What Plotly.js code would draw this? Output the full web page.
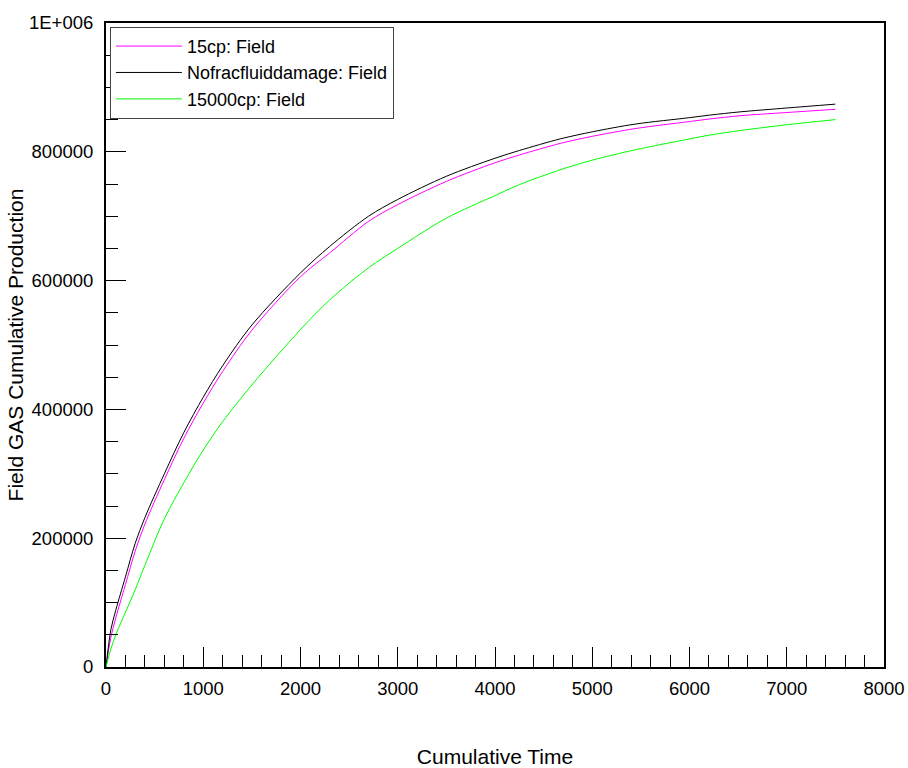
<!DOCTYPE html>
<html>
<head>
<meta charset="utf-8">
<script src="https://cdn.plot.ly/plotly-3.0.1.min.js"></script>
<style>html,body{margin:0;padding:0;background:#fff;}#chart{width:908px;height:768px;}</style>
</head>
<body>
<div id="chart"></div>
<script>
const time = [0,50,100,200,300,400,600,800,1000,1200,1500,2000,2300,2700,3000,3500,4000,4250,4670,5000,5440,6000,6210,6520,7000,7500];
const cp15 = [0,46000,76000,128000,180000,222000,291000,355000,410000,459000,523000,606000,643000,692000,718000,754000,783000,795000,813000,824000,836000,847000,851000,856000,861000,866000];
const nofrac = [0,58000,88000,140000,192000,232000,300000,364000,419000,468000,531000,612000,653000,700000,726000,762000,790000,802000,820000,831000,843000,853000,857000,862000,868000,874000];
const cp15000 = [0,28000,50000,85000,120000,158000,230000,286000,337000,381000,438000,524000,570000,620000,650000,697000,732000,749000,772000,787000,803000,820000,826000,833000,842000,850000];
const seriesNames = ["15cp: Field","Nofracfluiddamage: Field","15000cp: Field"];
const yTickVals = [0,200000,400000,600000,800000,1000000];
const yTickText = ["0","200000","400000","600000","800000","1E+006"];
const xTickVals = [0,1000,2000,3000,4000,5000,6000,7000,8000];

const font = "Liberation Sans, Arial, sans-serif";
const lineShape = {shape: "spline", smoothing: 0.9, width: 1};
const traces = [
  {x: time, y: cp15, name: seriesNames[0], mode: "lines", line: Object.assign({color: "#ff00ff"}, lineShape)},
  {x: time, y: nofrac, name: seriesNames[1], mode: "lines", line: Object.assign({color: "#000000"}, lineShape)},
  {x: time, y: cp15000, name: seriesNames[2], mode: "lines", line: Object.assign({color: "#00ff00"}, lineShape)}
];
const layout = {
  width: 908, height: 768,
  margin: {l: 106, r: 24, t: 23, b: 101},
  paper_bgcolor: "#fff", plot_bgcolor: "#fff",
  font: {family: font, color: "#000", size: 18},
  showlegend: true,
  legend: {x: 0.005, y: 0.994, xanchor: "left", yanchor: "top", bgcolor: "#fff",
           bordercolor: "#444", borderwidth: 1, font: {size: 18, family: font}, tracegroupgap: 0,
           itemwidth: 66},
  xaxis: {range: [0, 8000], tickvals: xTickVals, ticks: "inside", ticklen: 20, tickwidth: 1, tickcolor: "#000",
          minor: {dtick: 200, ticks: "inside", ticklen: 12, tickwidth: 1, tickcolor: "#000", showgrid: false},
          showgrid: false, zeroline: false, showline: true, linewidth: 2, linecolor: "#000", mirror: true,
          tickfont: {size: 18.5, family: font}, ticklabelstandoff: 4, fixedrange: true,
          title: {text: "Cumulative Time", font: {size: 21, family: font}, standoff: 51}},
  yaxis: {range: [0, 1000000], tickvals: yTickVals, ticktext: yTickText, ticks: "inside", ticklen: 20, tickwidth: 1, tickcolor: "#000",
          minor: {dtick: 50000, ticks: "inside", ticklen: 12, tickwidth: 1, tickcolor: "#000", showgrid: false},
          showgrid: false, zeroline: false, showline: true, linewidth: 2, linecolor: "#000", mirror: true,
          tickfont: {size: 18.5, family: font}, ticklabelstandoff: 7, fixedrange: true,
          title: {text: "Field GAS Cumulative Production", font: {size: 21, family: font}, standoff: 0}}
};
Plotly.newPlot("chart", traces, layout, {displayModeBar: false, staticPlot: true});
</script>
</body>
</html>
